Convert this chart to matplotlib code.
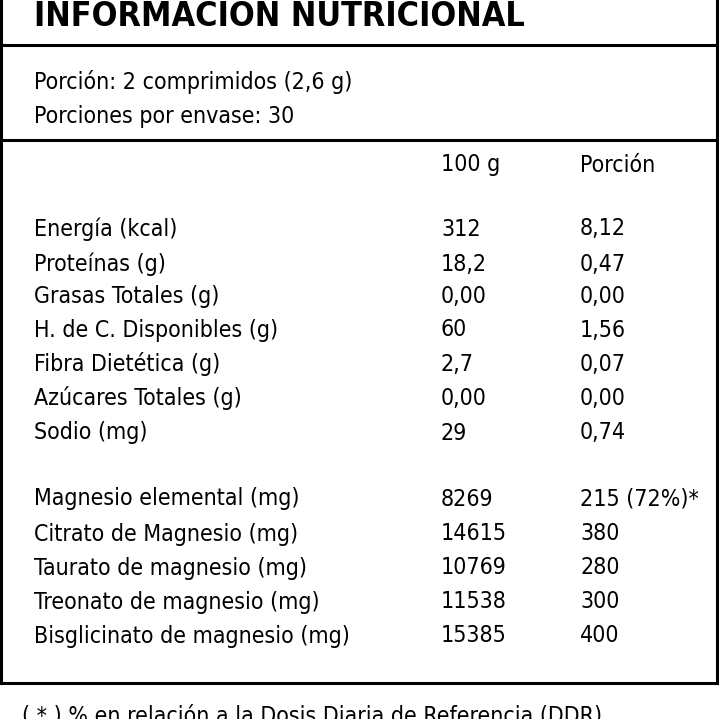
import matplotlib
matplotlib.use("Agg")
import matplotlib.pyplot as plt
from matplotlib import font_manager as fm

names = {f.name for f in fm.fontManager.ttflist}
FONT = "Liberation Sans Narrow" if "Liberation Sans Narrow" in names else "DejaVu Sans"
STRETCH = "normal" if FONT != "DejaVu Sans" else "condensed"

title = "INFORMACION NUTRICIONAL"
serving = ["Porción: 2 comprimidos (2,6 g)", "Porciones por envase: 30"]
col_headers = ["100 g", "Porción"]
nutrients = ["Energía (kcal)", "Proteínas (g)", "Grasas Totales (g)", "H. de C. Disponibles (g)",
             "Fibra Dietética (g)", "Azúcares Totales (g)", "Sodio (mg)"]
per100 = ["312", "18,2", "0,00", "60", "2,7", "0,00", "29"]
perport = ["8,12", "0,47", "0,00", "1,56", "0,07", "0,00", "0,74"]
minerals = ["Magnesio elemental (mg)", "Citrato de Magnesio (mg)", "Taurato de magnesio (mg)",
            "Treonato de magnesio (mg)", "Bisglicinato de magnesio (mg)"]
min100 = ["8269", "14615", "10769", "11538", "15385"]
minport = ["215 (72%)*", "380", "280", "300", "400"]
footer = "( * ) % en relación a la Dosis Diaria de Referencia (DDR)"

W = H = 719
fig = plt.figure(figsize=(7.19, 7.19), dpi=100)
ax = fig.add_axes([0, 0, 1, 1])
ax.set_xlim(0, W); ax.set_ylim(H, 0); ax.axis("off")

fs = 18 if FONT != "DejaVu Sans" else 16.6
kw = dict(family=FONT, stretch=STRETCH, fontsize=fs, color="black", va="center")
ax.text(34, 16, title, fontsize=(30 if FONT != "DejaVu Sans" else 24.5), fontweight="bold",
        family=FONT, stretch=STRETCH, va="center")
lw = 2.2
for y in [45, 140, 683]:
    ax.plot([0, 718], [y, y], color="black", lw=lw)
ax.plot([1, 1], [-5, 683], color="black", lw=lw)
ax.plot([717, 717], [-5, 683], color="black", lw=lw)

ax.text(34, 82, serving[0], **kw)
ax.text(34, 117, serving[1], **kw)
ax.text(441, 165, col_headers[0], **kw)
ax.text(580, 165, col_headers[1], **kw)

ys1 = [229, 264, 297, 330, 364, 398, 433]
for y, n, a, b in zip(ys1, nutrients, per100, perport):
    ax.text(34, y, n, **kw); ax.text(441, y, a, **kw); ax.text(580, y, b, **kw)
ys2 = [499, 534, 568, 602, 636]
for y, n, a, b in zip(ys2, minerals, min100, minport):
    ax.text(34, y, n, **kw); ax.text(441, y, a, **kw); ax.text(580, y, b, **kw)

ax.text(22, 716, footer, **kw)
fig.savefig("out.png", dpi=100)
